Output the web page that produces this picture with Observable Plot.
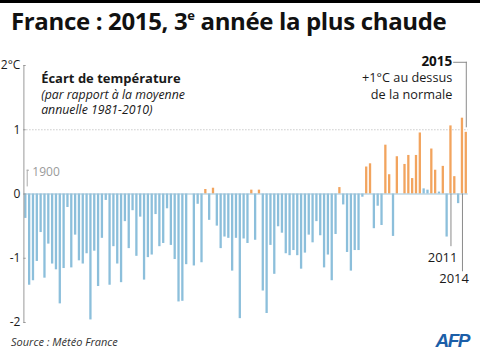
<!DOCTYPE html>
<html><head><meta charset="utf-8">
<script src="https://cdn.jsdelivr.net/npm/d3@7"></script>
<script src="https://cdn.jsdelivr.net/npm/@observablehq/plot@0.6"></script>
<style>
html,body{margin:0;padding:0;background:#fff;}
#page{position:relative;width:480px;height:357px;overflow:hidden;font-family:"Open Sans","Noto Sans",sans-serif;color:#1a1a1a;}
#topbar{height:3px;background:#000;}
#title{height:42px;box-sizing:border-box;padding:3px 0 0 11px;font-weight:700;font-size:24px;line-height:30px;white-space:nowrap;color:#111;letter-spacing:-0.35px;}
#title sup{font-size:13px;line-height:1;vertical-align:top;position:relative;top:3px;}
#chart{height:287px;}
#chart svg{display:block;overflow:visible;}
#footer{position:relative;height:25px;}
#source{position:absolute;left:11px;top:2px;font-style:italic;font-size:11px;line-height:15px;color:#333;}
#afp{position:absolute;right:11px;top:-1px;font-family:"Liberation Sans",Arial,sans-serif;font-weight:700;font-style:italic;font-size:19px;line-height:20px;letter-spacing:-1.5px;color:#1b5ea8;}
</style>
</head>
<body>
<div id="page">
  <div id="topbar"></div>
  <div id="title">France : 2015, 3<sup>e</sup> année la plus chaude</div>
  <div id="chart"></div>
  <div id="footer">
    <div id="source">Source : Météo France</div>
    <div id="afp">AFP</div>
  </div>
</div>
<script>
// Écart de température annuel (°C), France, 1900 → 2015
const firstYear = 1900;
const anomalies = [
  -0.38, -1.42, -1.35, -1.05, -0.60, -1.31, -0.78, -1.09, -1.18, -1.71, // 1900-1909
  -1.16, -0.21, -1.15, -0.64, -1.04, -1.09, -0.93, -1.96, -0.89, -1.44, // 1910-1919
  -0.69, -0.10, -1.42, -0.82, -1.09, -1.38, -0.43, -0.85, -0.26, -0.97, // 1920-1929
  -0.36, -1.34, -0.99, -0.95, -0.32, -0.82, -0.77, -0.23, -0.80, -1.02, // 1930-1939
  -1.68, -1.67, -1.10,  0.00, -1.12, -0.16, -1.07,  0.07, -0.41,  0.09, // 1940-1949
  -0.50, -0.85, -0.67, -0.69, -1.20, -0.69, -1.94, -0.70, -0.77,  0.06, // 1950-1959
  -0.72,  0.06, -1.51, -1.86, -0.80, -1.25, -0.51, -0.61, -0.93, -0.96, // 1960-1969
  -0.88, -0.96, -1.17, -0.92, -0.64, -0.76, -0.43, -0.65, -1.15, -0.95, // 1970-1979
  -1.35, -0.63,  0.10, -0.17, -0.91, -1.20, -0.88, -0.88, -0.05,  0.42, // 1980-1989
   0.47, -0.54, -0.19, -0.49,  0.76,  0.30, -0.66,  0.58,  0.00,  0.46, // 1990-1999
   0.60,  0.24,  0.60,  0.95,  0.08,  0.06,  0.70,  0.37,  0.03,  0.43, // 2000-2009
  -0.67,  1.06,  0.27, -0.15,  1.18,  0.96                              // 2010-2015
];
// années proches de la normale, dessinées en bleu malgré un écart positif
const nearNormalYears = [2004, 2005, 2008];
const yTicks = [-2, -1, 0, 1, 2];
const labelledYears = [2011, 2014];

const years = anomalies.map((_, i) => firstYear + i);
const lastYear = years[years.length - 1];
const data = years.map((year, i) => ({
  year,
  value: anomalies[i],
  kind: anomalies[i] > 0 && !nearNormalYears.includes(year) ? "chaud" : "froid"
}));

const blue = "#8cbfdb", orange = "#f2a45e", grey = "#8a8a8a";
const fmt = d => d === 2 ? "2°C" : (d < 0 ? "-" + Math.abs(d) : String(d));
const font = "'Open Sans', 'Noto Sans', sans-serif";

const plot = Plot.plot({
  width: 480,
  height: 287,
  marginLeft: 23.4,
  marginRight: 12.3,
  marginTop: 20,
  marginBottom: 10,
  style: {fontFamily: font, fontSize: "12px", color: "#1a1a1a", background: "transparent"},
  x: {type: "band", domain: years, paddingInner: 0.4, paddingOuter: 0.2, axis: null},
  y: {domain: [-2, 2], axis: null},
  color: {domain: ["froid", "chaud"], range: [blue, orange]},
  marks: [
    Plot.ruleY([1], {stroke: "#b0b0b0", strokeDasharray: "1,2"}),
    Plot.barY(data, {x: "year", y: "value", fill: "kind"}),
    Plot.ruleY([0], {stroke: "#9ec3d8"}),
    Plot.frame({anchor: "left", stroke: "#9a9a9a"}),
    Plot.tickY(yTicks, {y: d => d, x: () => firstYear, dx: -0.8, stroke: "#9a9a9a"}),
    Plot.axisY({ticks: yTicks, tickSize: 0, tickPadding: 3.5, tickFormat: fmt, label: null, fontSize: 12, fill: "#1a1a1a"}),
    // 1900
    Plot.ruleX([firstYear], {x: d => d, y1: 0.37, y2: 0.11, dx: 1.4, stroke: "#aaa"}),
    Plot.tickY([0.37], {y: d => d, x: () => firstYear, dx: 2.5, stroke: "#aaa"}),
    Plot.text([firstYear], {x: d => d, y: () => 0.34, text: d => String(d), textAnchor: "start", dx: 6.5, fill: "#9a9a9a", fontSize: 12}),
    // légende
    Plot.text(["Écart de température"], {x: () => 1904, y: () => 1.8, text: d => d, textAnchor: "start", fontWeight: "bold", fontSize: 13, fill: "#1a1a1a"}),
    Plot.text(["(par rapport à la moyenne", "annuelle 1981-2010)"], {x: () => 1904, y: (d, i) => [1.545, 1.30][i], text: d => d, textAnchor: "start", fontStyle: "italic", fontSize: 12.3, fill: "#1a1a1a"}),
    // 2015
    Plot.ruleY([2.05], {y: d => d, x1: () => lastYear - 3, x2: () => lastYear, stroke: grey}),
    Plot.ruleX([lastYear], {x: d => d, y1: 2.05, y2: 1.03, stroke: grey}),
    Plot.text([String(lastYear)], {x: () => lastYear, y: () => 2.06, text: d => d, textAnchor: "end", dx: -14, fontWeight: "bold", fontSize: 13.5, fill: "#111"}),
    Plot.text(["+1°C au dessus", "de la normale"], {x: () => lastYear, y: (d, i) => [1.80, 1.545][i], text: d => d, textAnchor: "end", dx: -14, fontSize: 12.7, fill: "#1a1a1a"}),
    // 2011, 2014
    Plot.ruleX(labelledYears, {x: d => d, y1: 0, y2: (d, i) => [-0.82, -1.21][i], stroke: grey}),
    Plot.text(labelledYears, {x: d => d, y: (d, i) => [-0.99, -1.32][i], text: d => String(d), textAnchor: "end", dx: 6.5, fontSize: 13, fill: "#1a1a1a"})
  ]
});
document.getElementById("chart").appendChild(plot);
</script>
</body></html>
